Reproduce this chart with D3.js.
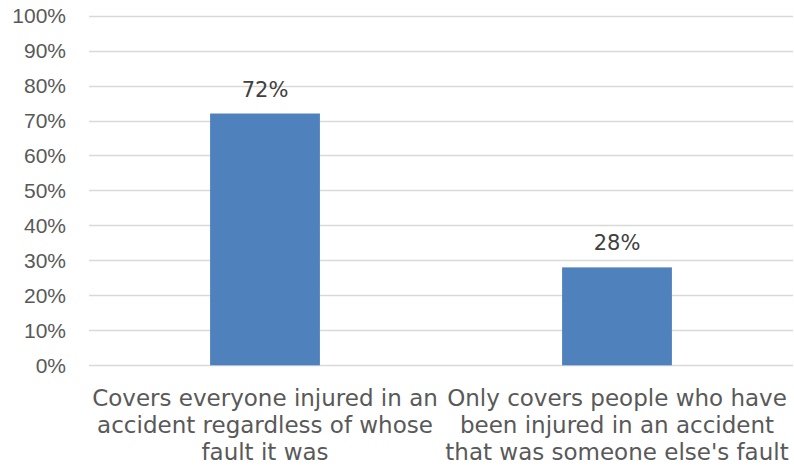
<!DOCTYPE html>
<html><head><meta charset="utf-8">
<script src="https://cdn.jsdelivr.net/npm/d3@7"></script>
<style>
html,body{margin:0;padding:0;background:#fff;}
svg{display:block;font-family:"Century Gothic","URW Gothic","DejaVu Sans",sans-serif;}
</style></head>
<body>
<svg id="chart" width="794" height="466"></svg>
<script>
const categories = [
  ["Covers everyone injured in an", "accident regardless of whose", "fault it was"],
  ["Only covers people who have", "been injured in an accident", "that was someone else's fault"]
];
const values = [0.72, 0.28];
const valueLabels = ["72%", "28%"];
const yTicks = [0,0.1,0.2,0.3,0.4,0.5,0.6,0.7,0.8,0.9,1.0];

const svg = d3.select("#chart");
const m = {left: 89, right: 1, top: 15.6, bottom: 100.7};
const W = 794, H = 466;

const x = d3.scaleBand().domain(d3.range(categories.length))
  .range([m.left, W - m.right]).paddingInner(0.688).paddingOuter(0.344);
const y = d3.scaleLinear().domain([0, 1]).range([H - m.bottom, m.top]);

// gridlines
svg.append("g").selectAll("line").data(yTicks).join("line")
  .attr("x1", m.left).attr("x2", W - m.right)
  .attr("y1", d => Math.round(y(d)) + 0.5).attr("y2", d => Math.round(y(d)) + 0.5)
  .attr("stroke", "#d9d9d9").attr("stroke-width", 1.5);

// y axis labels
const yAxis = d3.axisLeft(y).tickValues(yTicks).tickFormat(d3.format(".0%")).tickSize(0).tickPadding(0);
const ga = svg.append("g").attr("transform", `translate(${66},0)`).call(yAxis);
ga.select(".domain").remove();
ga.selectAll("text").attr("fill", "#595959").style("font-size", "21px")
  .style("font-family", "inherit");

// bars
svg.append("g").selectAll("rect").data(values).join("rect")
  .attr("x", (d, i) => x(i)).attr("width", x.bandwidth())
  .attr("y", d => y(d)).attr("height", d => y(0) - y(d))
  .attr("fill", "#4f81bd");

// value labels
svg.append("g").selectAll("text").data(values).join("text")
  .attr("x", (d, i) => x(i) + x.bandwidth() / 2)
  .attr("y", d => y(d) - 17)
  .attr("text-anchor", "middle").attr("fill", "#404040")
  .style("font-size", "21px").text((d, i) => valueLabels[i]);

// category labels
const cg = svg.append("g").selectAll("text").data(categories).join("text")
  .attr("text-anchor", "middle").attr("fill", "#595959").style("font-size", "23px");
cg.selectAll("tspan").data((d, i) => d.map(t => ({t, i}))).join("tspan")
  .attr("x", d => x(d.i) + x.bandwidth() / 2)
  .attr("y", (d, j) => 406 + j * 27)
  .text(d => d.t);
</script>
</body></html>
